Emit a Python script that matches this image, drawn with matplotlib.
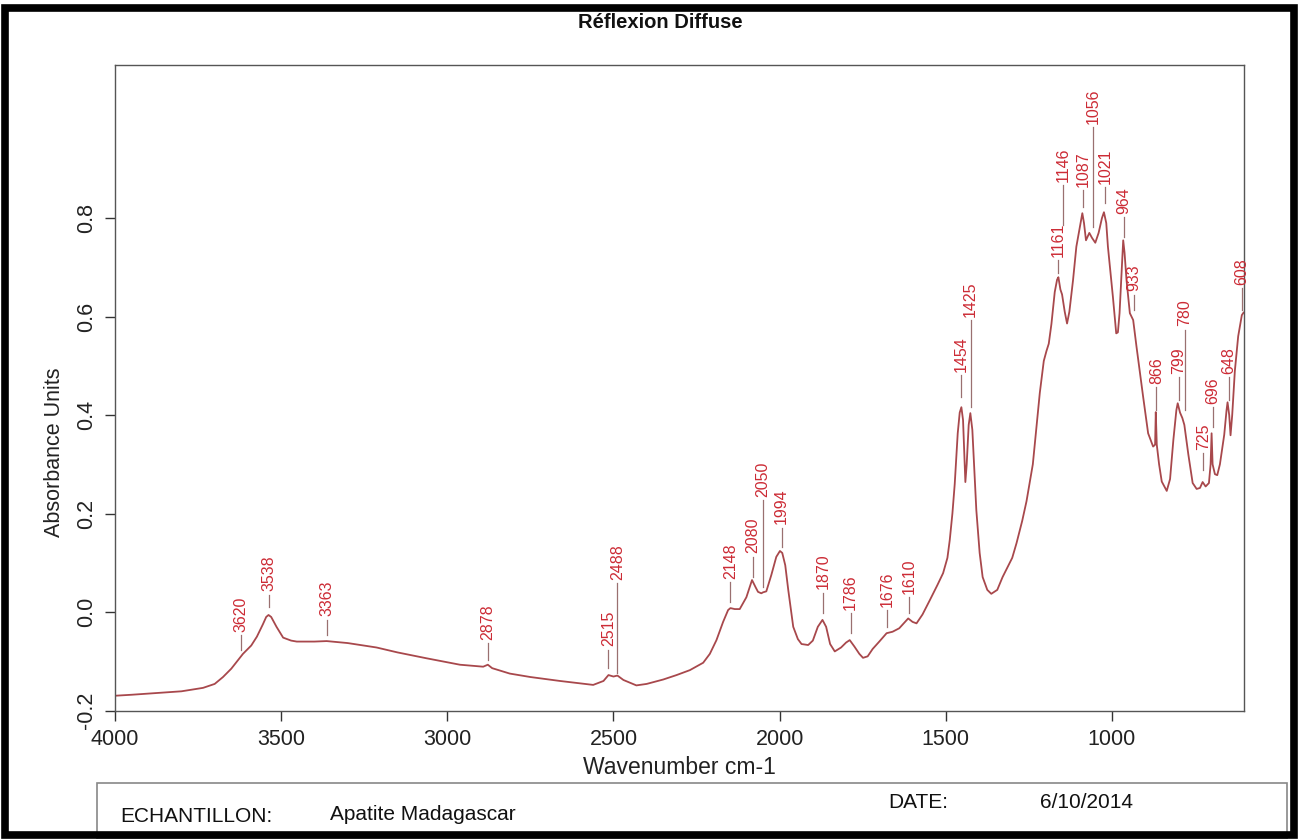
import matplotlib
matplotlib.use("Agg")
import matplotlib.pyplot as plt
from matplotlib.patches import Rectangle
from matplotlib.lines import Line2D
import numpy as np

plt.rcParams['font.family'] = ['Liberation Sans', 'DejaVu Sans']

# ---------------- data ----------------
wavenumber = [4000, 3950, 3886, 3800, 3735, 3700, 3675, 3650, 3615, 3590, 3573, 3555,
              3545, 3538, 3530, 3514, 3494, 3470, 3453, 3400, 3363, 3300, 3213, 3150,
              3062, 2962, 2892, 2878, 2865, 2812, 2750, 2661, 2600, 2561, 2530, 2515,
              2500, 2488, 2470, 2431, 2400, 2350, 2310, 2270, 2230, 2210, 2190, 2170,
              2155, 2148, 2135, 2120, 2100, 2083, 2072, 2065, 2055, 2050, 2040, 2025,
              2010, 1999, 1992, 1983, 1974, 1959, 1945, 1934, 1914, 1900, 1885, 1871,
              1860, 1848, 1834, 1815, 1800, 1789, 1775, 1760, 1749, 1735, 1720, 1700,
              1678, 1660, 1640, 1625, 1613, 1600, 1588, 1570, 1548, 1525, 1508, 1495,
              1488, 1480, 1473, 1464, 1458, 1453, 1448, 1443, 1441, 1437, 1431, 1426,
              1420, 1408, 1398, 1389, 1375, 1363, 1345, 1329, 1300, 1287, 1270, 1257,
              1238, 1225, 1217, 1205, 1197, 1190, 1182, 1172, 1165, 1161, 1155, 1150,
              1142, 1135, 1128, 1117, 1107, 1097, 1089, 1084, 1078, 1068, 1060, 1050,
              1040, 1030, 1024, 1017, 1012, 997, 987, 982, 977, 970, 966, 962,
              956, 946, 936, 926, 906, 891, 876, 870, 868, 865, 858, 850,
              835, 825, 815, 806, 802, 795, 788, 782, 770, 757, 745, 735,
              727, 718, 708, 703, 700, 697, 690, 683, 675, 662, 655, 652,
              647, 643, 638, 630, 620, 609, 604]
absorbance = [-0.170, -0.168, -0.165, -0.161, -0.154, -0.146, -0.132, -0.115, -0.085, -0.068, -0.050, -0.025,
              -0.010, -0.006, -0.010, -0.030, -0.052, -0.058, -0.060, -0.060, -0.059, -0.063, -0.072, -0.082,
              -0.094, -0.107, -0.111, -0.107, -0.114, -0.125, -0.132, -0.140, -0.145, -0.148, -0.140, -0.128,
              -0.131, -0.129, -0.138, -0.149, -0.146, -0.137, -0.128, -0.118, -0.103, -0.085, -0.057, -0.020,
              0.004, 0.008, 0.006, 0.006, 0.030, 0.065, 0.050, 0.041, 0.038, 0.040, 0.042, 0.075,
              0.112, 0.124, 0.120, 0.095, 0.045, -0.030, -0.055, -0.065, -0.067, -0.058, -0.030, -0.016,
              -0.030, -0.065, -0.080, -0.072, -0.062, -0.057, -0.070, -0.085, -0.093, -0.090, -0.075, -0.060,
              -0.043, -0.040, -0.033, -0.022, -0.013, -0.020, -0.023, -0.005, 0.024, 0.055, 0.079, 0.110,
              0.146, 0.200, 0.260, 0.363, 0.405, 0.416, 0.390, 0.300, 0.264, 0.300, 0.380, 0.404,
              0.370, 0.207, 0.120, 0.071, 0.045, 0.037, 0.045, 0.071, 0.110, 0.140, 0.185, 0.225,
              0.300, 0.390, 0.445, 0.510, 0.530, 0.545, 0.585, 0.650, 0.675, 0.680, 0.655, 0.645,
              0.610, 0.586, 0.610, 0.674, 0.742, 0.780, 0.810, 0.790, 0.755, 0.770, 0.760, 0.750,
              0.770, 0.800, 0.812, 0.790, 0.742, 0.640, 0.566, 0.568, 0.607, 0.700, 0.755, 0.730,
              0.674, 0.607, 0.593, 0.539, 0.437, 0.363, 0.336, 0.340, 0.406, 0.340, 0.300, 0.265,
              0.246, 0.270, 0.350, 0.410, 0.424, 0.405, 0.394, 0.380, 0.320, 0.262, 0.250, 0.252,
              0.264, 0.255, 0.262, 0.300, 0.363, 0.300, 0.280, 0.278, 0.300, 0.360, 0.410, 0.426,
              0.400, 0.359, 0.400, 0.490, 0.560, 0.603, 0.608]

peak_labels = [3620, 3538, 3363, 2878, 2515, 2488, 2148, 2080, 2050, 1994, 1870, 1786,
               1676, 1610, 1454, 1425, 1161, 1146, 1087, 1056, 1021, 964, 933, 866,
               799, 780, 725, 696, 648, 608]
peak_line_low = [-0.077, 0.010, -0.047, -0.097, -0.114, -0.124, 0.020, 0.071, 0.051, 0.132, -0.002, -0.043,
                 -0.030, -0.002, 0.437, 0.416, 0.688, 0.786, 0.822, 0.782, 0.830, 0.761, 0.613, 0.410,
                 0.430, 0.410, 0.288, 0.376, 0.430, 0.613]
peak_line_high = [-0.047, 0.035, -0.016, -0.063, -0.077, 0.059, 0.061, 0.112, 0.227, 0.171, 0.039, -0.002,
                  0.004, 0.030, 0.481, 0.593, 0.715, 0.867, 0.857, 0.985, 0.863, 0.802, 0.644, 0.457,
                  0.477, 0.573, 0.323, 0.416, 0.477, 0.658]

x_ticks = [4000, 3500, 3000, 2500, 2000, 1500, 1000]
y_ticks = [-0.2, 0.0, 0.2, 0.4, 0.6, 0.8]
y_tick_labels = ['-0.2', '0.0', '0.2', '0.4', '0.6', '0.8']

title_text = 'Réflexion Diffuse'
x_label = 'Wavenumber cm-1'
y_label = 'Absorbance Units'
sample_key = 'ECHANTILLON:'
sample_name = 'Apatite Madagascar'
date_key = 'DATE:'
date_value = '6/10/2014'

# ---------------- figure ----------------
W, H = 1302, 839
fig = plt.figure(figsize=(W / 100, H / 100), dpi=100)
fig.patch.set_facecolor('white')

def fx(px):
    return px / W

def fy(py):
    return 1 - py / H

ax_l, ax_r, ax_t, ax_b = 115, 1243.5, 65, 711
ax = fig.add_axes([fx(ax_l), fy(ax_b), (ax_r - ax_l) / W, (ax_b - ax_t) / H])

curve_color = '#a8484c'
label_color = '#cc2b35'
frame_color = '#555555'

ax.plot(wavenumber, absorbance, color=curve_color, lw=1.3, solid_joinstyle='round')

ax.set_xlim(4000, 604)
ax.set_ylim(-0.201, 1.111)

ax.set_xticks(x_ticks)
ax.set_xticklabels([str(t) for t in x_ticks])
ax.set_yticks(y_ticks)
ax.set_yticklabels(y_tick_labels, rotation=90, va='center')

ax.tick_params(axis='both', direction='out', length=7, width=1, colors='#333333',
               labelsize=15.5, labelcolor='#222222')
ax.tick_params(axis='x', pad=6)
ax.tick_params(axis='y', pad=6)
for s in ax.spines.values():
    s.set_color(frame_color)
    s.set_linewidth(1.0)

# peak annotations
for wn, lo, hi in zip(peak_labels, peak_line_low, peak_line_high):
    ax.plot([wn, wn], [lo, hi], color='#9a7070', lw=0.9)
    ax.text(wn, hi + 0.007, str(wn), rotation=90, ha='center', va='bottom',
            color=label_color, fontsize=11.5)

# axis labels
ax.set_xlabel(x_label, fontsize=16.5, color='#222222', labelpad=4)
fig.text(fx(55), fy(452), y_label, rotation=90, ha='center', va='center',
         fontsize=15.5, color='#222222')

# title
fig.text(fx(660), fy(22), title_text, ha='center', va='center', fontsize=14.5,
         fontweight='bold', color='#111111')

# bottom info box
fig.add_artist(Rectangle((fx(97), fy(839)), (1287 - 97) / W, (839 - 783) / H,
                         transform=fig.transFigure, fill=False, ec='#888888', lw=1.2))
fig.text(fx(120), fy(816), sample_key, ha='left', va='center', fontsize=15, color='#111111')
fig.text(fx(330), fy(814), sample_name, ha='left', va='center', fontsize=15, color='#111111')
fig.text(fx(888), fy(803), date_key, ha='left', va='center', fontsize=15, color='#111111')
fig.text(fx(1040), fy(803), date_value, ha='left', va='center', fontsize=15, color='#111111')

# outer black frame
fig.add_artist(Rectangle((fx(4.5), fy(835)), (1293.5 - 4.5) / W, (835 - 8) / H,
                         transform=fig.transFigure, fill=False, ec='black', lw=5.5))

fig.savefig('out.png', dpi=100, facecolor='white')
